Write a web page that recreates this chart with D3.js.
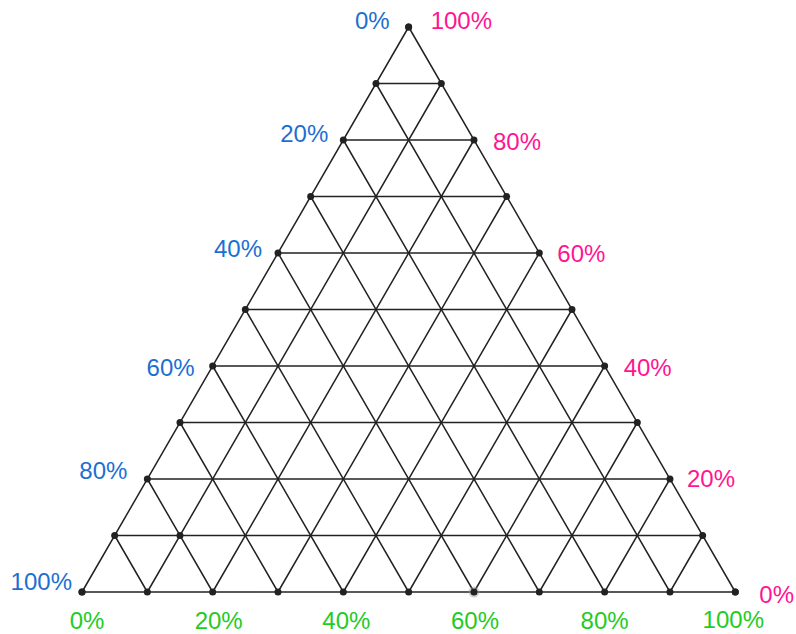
<!DOCTYPE html>
<html>
<head>
<meta charset="utf-8">
<script src="https://cdn.jsdelivr.net/npm/d3@7"></script>
<style>
  html, body { margin: 0; padding: 0; background: #fff; }
  svg { display: block; }
  text { font-family: "Liberation Sans", Arial, sans-serif; }
</style>
</head>
<body>
<svg id="chart" width="796" height="634"></svg>
<script>
// Grid divisions (fractions of 100%) and the labelled subset
const gridSteps = [0, 0.1, 0.2, 0.3, 0.4, 0.5, 0.6, 0.7, 0.8, 0.9, 1];
const labelSteps = [0, 0.2, 0.4, 0.6, 0.8, 1];
const tickLabels = ["0%", "20%", "40%", "60%", "80%", "100%"];
// Extra marked composition inside the triangle [A, B, C]
const markedPoints = [[0.8, 0.1, 0.1]];

// A = bottom-left component (blue), B = top component (pink), C = bottom-right component (green)
const colorA = "#1c6fd2", colorB = "#ff1493", colorC = "#1fcc1f";
const ink = "#222";

// hand placement of each tick label relative to its edge point [dx, dy of text centre]
const nudgeA = [[-19, -7], [-15, -6.5], [-16, -5], [-18, 1], [-20, -9], [-10, -10.5]];
const nudgeB = [[24, 2], [17, -1], [19, 1], [18, 0], [19, 1], [22, -7]];
const nudgeC = [[5, 28], [6, 28], [3, 28], [1, 28], [0, 28], [-2, 27]];

const svg = d3.select("#chart");
const xScale = d3.scaleLinear().domain([0, 1]).range([82, 735.3]);
const yScale = d3.scaleLinear().domain([0, 1]).range([592, 27]);

// ternary (A, B, C) -> screen
const px = (a, b, c) => xScale(c + b / 2);
const py = (a, b, c) => yScale(b);

const g = svg.append("g");

// grid lines parallel to each edge
const lines = [];
gridSteps.forEach(v => {
  if (v === 1) return;
  lines.push([[1 - v, v, 0], [0, v, 1 - v]]);   // B constant (horizontal)
  lines.push([[v, 1 - v, 0], [v, 0, 1 - v]]);   // A constant
  lines.push([[1 - v, 0, v], [0, 1 - v, v]]);   // C constant
});

g.selectAll("line.grid").data(lines).join("line")
  .attr("class", "grid")
  .attr("x1", d => px(...d[0])).attr("y1", d => py(...d[0]))
  .attr("x2", d => px(...d[1])).attr("y2", d => py(...d[1]))
  .attr("stroke", ink).attr("stroke-width", 1.5)
  .attr("stroke-linecap", "round");

// dots along the three edges
const edgeDots = [];
gridSteps.forEach(v => {
  edgeDots.push([v, 1 - v, 0]);           // left edge
  edgeDots.push([0, v, 1 - v]);           // right edge
  edgeDots.push([1 - v, 0, v]);           // bottom edge
});
const allDots = edgeDots.concat(markedPoints);

// soft halo around the 60% bottom mark
g.append("circle")
  .attr("cx", px(0.4, 0, 0.6)).attr("cy", py(0.4, 0, 0.6))
  .attr("r", 5.5).attr("fill", "#999").attr("opacity", 0.45);

g.selectAll("circle.dot").data(allDots).join("circle")
  .attr("class", "dot")
  .attr("cx", d => px(...d)).attr("cy", d => py(...d))
  .attr("r", 3.5).attr("fill", ink);

const fontSize = 24;
const capHalf = fontSize * 0.716 / 2;

function addLabels(cls, pos, nudge, anchor, color) {
  g.selectAll("text." + cls).data(labelSteps).join("text")
    .attr("class", cls)
    .attr("x", (v, i) => pos(v)[0] + nudge[i][0])
    .attr("y", (v, i) => pos(v)[1] + nudge[i][1] + capHalf)
    .attr("text-anchor", anchor)
    .attr("font-size", fontSize)
    .attr("fill", color)
    .text((v, i) => tickLabels[i]);
}

// left edge labels (A)
addLabels("la", v => [px(v, 1 - v, 0), py(v, 1 - v, 0)], nudgeA, "end", colorA);
// right edge labels (B)
addLabels("lb", v => [px(0, v, 1 - v), py(0, v, 1 - v)], nudgeB, "start", colorB);
// bottom edge labels (C)
addLabels("lc", v => [px(1 - v, 0, v), py(1 - v, 0, v)], nudgeC, "middle", colorC);
</script>
</body>
</html>
